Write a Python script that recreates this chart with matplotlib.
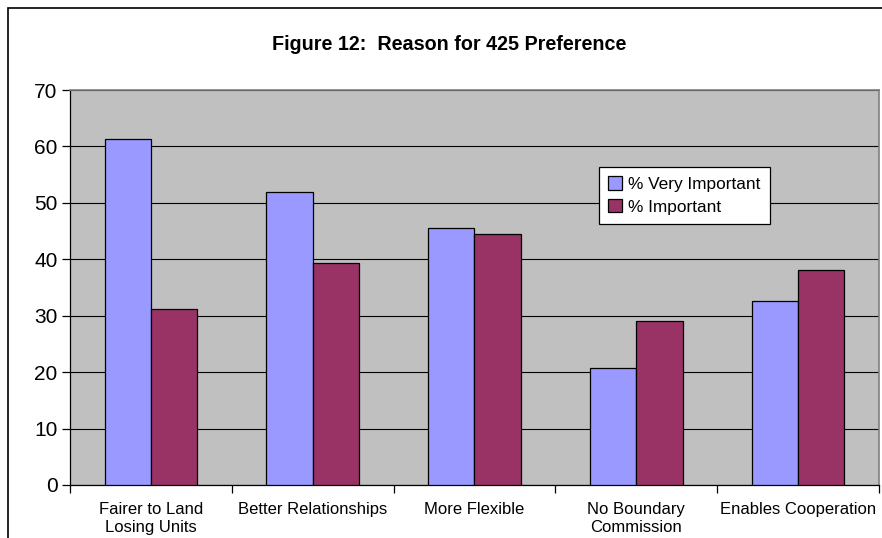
import matplotlib
matplotlib.use("Agg")
import matplotlib.pyplot as plt
import numpy as np
from matplotlib.patches import Rectangle

plt.rcParams['font.family'] = ['Liberation Sans', 'DejaVu Sans']

# data
categories = ["Fairer to Land\nLosing Units", "Better Relationships", "More Flexible",
              "No Boundary\nCommission", "Enables Cooperation"]
very_important = [61.4, 52.0, 45.6, 20.8, 32.6]
important = [31.2, 39.4, 44.5, 29.0, 38.1]
series_names = ["% Very Important", "% Important"]

W, H = 882, 538
fig = plt.figure(figsize=(W / 100, H / 100), dpi=100)

# outer chart border (goes off the right and bottom edge)
fig.patches.append(Rectangle((8 / W, -0.1), 1.2, 1 - 8 / H + 0.1, transform=fig.transFigure,
                             fill=False, edgecolor='black', linewidth=1.2))

ax = fig.add_axes([70 / W, 1 - 485 / H, (879 - 70) / W, (485 - 90) / H])
ax.set_facecolor('#C0C0C0')

x = np.arange(len(categories))
w = 1 / 3.5  # excel gap width 150%
ax.bar(x - w / 2, very_important, w, color='#9999FF', edgecolor='black', linewidth=0.9,
       label=series_names[0], zorder=3)
ax.bar(x + w / 2, important, w, color='#993366', edgecolor='black', linewidth=0.9,
       label=series_names[1], zorder=3)

ax.set_xlim(-0.5, len(categories) - 0.5)
ax.set_ylim(0, 70)
ax.set_yticks(np.arange(0, 71, 10))
ax.tick_params(axis='y', labelsize=15, length=6, width=0.9, direction='out', pad=3)
ax.yaxis.grid(True, color='black', linewidth=0.8, zorder=1)
ax.set_axisbelow(True)

# category ticks sit between groups, labels sit under the groups
ax.set_xticks(np.arange(-0.5, len(categories), 1))
ax.set_xticklabels([])
ax.set_xticks(x, minor=True)
ax.set_xticklabels(categories, minor=True, fontsize=12, linespacing=1.3)
ax.tick_params(axis='x', which='major', length=6, width=0.9, direction='out')
ax.tick_params(axis='x', which='minor', length=0, pad=12)

for side in ['top', 'right']:
    ax.spines[side].set_color('#808080')
    ax.spines[side].set_linewidth(1.2)
ax.spines['left'].set_linewidth(0.9)
ax.spines['bottom'].set_linewidth(0.9)

fig.text(449.5 / W, 1 - 44 / H, "Figure 12:  Reason for 425 Preference", ha='center', va='center',
         fontsize=14.2, fontweight='bold')

leg = ax.legend(loc='upper left', bbox_to_anchor=((599 - 70) / 809, (485 - 167) / 395),
                fontsize=12.4, frameon=True, fancybox=False, framealpha=1, edgecolor='black',
                handlelength=0.8, handleheight=0.8, handletextpad=0.35, borderpad=0.55,
                labelspacing=0.4, borderaxespad=0)
leg.get_frame().set_linewidth(0.9)

fig.savefig("out.png", dpi=100)
